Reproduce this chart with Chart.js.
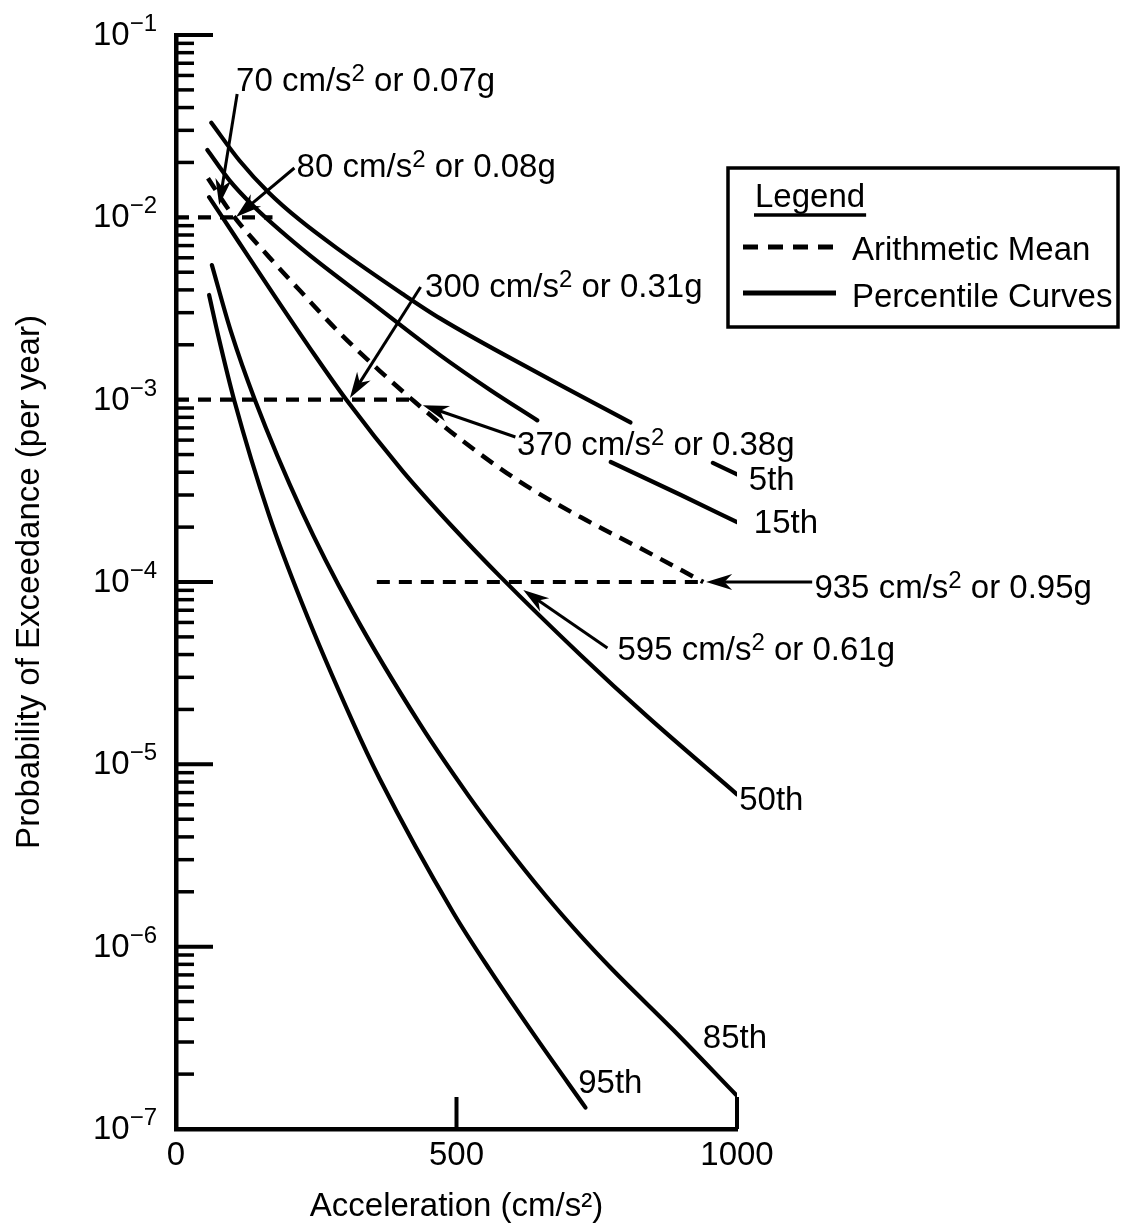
<!DOCTYPE html>
<html>
<head>
<meta charset="utf-8">
<script src="https://cdn.jsdelivr.net/npm/chart.js@4.4.1/dist/chart.umd.min.js"></script>
<style>
html,body{margin:0;padding:0;background:#ffffff;}
#box{width:1134px;height:1230px;}
</style>
</head>
<body>
<div id="box"><canvas id="chart" width="1134" height="1230"></canvas></div>
<script>
// ---------------- data ----------------
const xTicks = [0, 500, 1000];
const yDecades = [-7, -6, -5, -4, -3, -2, -1];

// percentile curves (acceleration cm/s^2 , annual probability of exceedance)
const p5Accel  = [63, 113, 166, 220, 286, 404, 470, 649, 810, 885, 957, 1000];
const p5Prob   = [3.3e-2, 2.05e-2, 1.36e-2, 9.7e-3, 6.8e-3, 3.8e-3, 2.8e-3, 1.38e-3, 7.5e-4, null, 4.5e-4, 3.9e-4];

const p15Accel = [56, 95, 136, 225, 345, 470, 560, 644, 710, 775, 900, 1000];
const p15Prob  = [2.34e-2, 1.6e-2, 1.17e-2, 6.7e-3, 3.47e-3, 1.76e-3, 1.13e-3, 7.7e-4, null, 4.55e-4, 3.0e-4, 2.13e-4];

const p50Accel = [59, 113, 175, 238, 304, 404, 494, 578, 721, 841, 1000];
const p50Prob  = [1.29e-2, 7.23e-3, 3.73e-3, 1.93e-3, 9.95e-4, 4.06e-4, 1.99e-4, 1.07e-4, 3.98e-5, 1.82e-5, 6.85e-6];

const p85Accel = [64, 98, 140, 225, 315, 435, 521, 583, 658, 721, 780, 887, 1000];
const p85Prob  = [5.47e-3, 2.36e-3, 1.01e-3, 2.42e-4, 6.9e-5, 1.66e-5, 6.76e-6, 3.74e-6, 1.92e-6, 1.15e-6, 7.38e-7, 3.48e-7, 1.52e-7];

const p95Accel = [59, 77, 104, 166, 225, 315, 363, 494, 560, 644, 730];
const p95Prob  = [3.75e-3, 2.13e-3, 9.86e-4, 2.32e-4, 7.6e-5, 1.71e-5, 8.34e-6, 1.54e-6, 7.41e-7, 3.1e-7, 1.31e-7];

// arithmetic mean curve
const meanAccel = [57, 98, 166, 220, 292, 363, 426, 506, 614, 721, 828, 940];
const meanProb  = [1.64e-2, 1.06e-2, 6.05e-3, 3.99e-3, 2.32e-3, 1.44e-3, 9.7e-4, 6.1e-4, 3.53e-4, 2.27e-4, 1.53e-4, 1.0e-4];

// horizontal dashed reference levels
const refLevel = [1e-2, 1e-3, 1e-4];
const refFrom  = [0, 0, 358];
const refTo    = [172, 428, 940];

// curve end labels
const curveLabels      = ['5th', '15th', '50th', '85th', '95th'];
const curveLabelAccel  = [1021, 1030, 1004, 939, 717];
const curveLabelProb   = [3.19e-4, 1.85e-4, 5.61e-6, 2.77e-7, 1.57e-7];

// call-outs (text anchor, arrow start, arrow tip in data units)
const callouts = [
  {value: '70',  g: '0.07g', text: [107, 0.0493],  from: [109, 0.0475],  tip: [77, 0.01168]},
  {value: '80',  g: '0.08g', text: [215, 0.01663], from: [211, 0.01864], tip: [107, 0.01004]},
  {value: '300', g: '0.31g', text: [444, 3.66e-3], from: [436, 4.15e-3], tip: [310, 1.02e-3]},
  {value: '370', g: '0.38g', text: [608, 4.97e-4], from: [605, 6.24e-4], tip: [440, 9.33e-4]},
  {value: '935', g: '0.95g', text: [1138, 8.17e-5], from: [1134, 1e-4],  tip: [945, 1e-4]},
  {value: '595', g: '0.61g', text: [787, 3.73e-5], from: [769, 4.34e-5], tip: [619, 9.03e-5]}
];

// ---------------- chart ----------------
const FONT = "'Liberation Sans', Arial, Helvetica, sans-serif";
Chart.defaults.font.family = FONT;
Chart.defaults.color = '#000';

const zip = (xs, ys) => xs.map((x, i) => ({x: x, y: ys[i]}));
const solidStyle = {borderColor: '#000', backgroundColor: '#000', borderWidth: 4.2, pointRadius: 0,
  pointHoverRadius: 0, fill: false, cubicInterpolationMode: 'monotone', spanGaps: false,
  borderCapStyle: 'round'};

const datasets = [
  Object.assign({label: '5th', data: zip(p5Accel, p5Prob)}, solidStyle),
  Object.assign({label: '15th', data: zip(p15Accel, p15Prob)}, solidStyle),
  Object.assign({label: '50th', data: zip(p50Accel, p50Prob)}, solidStyle),
  Object.assign({label: '85th', data: zip(p85Accel, p85Prob)}, solidStyle),
  Object.assign({label: '95th', data: zip(p95Accel, p95Prob)}, solidStyle),
  Object.assign({label: 'Arithmetic Mean', data: zip(meanAccel, meanProb)}, solidStyle,
    {borderDash: [14, 9], borderWidth: 4.5, borderCapStyle: 'butt'})
];
refLevel.forEach((lv, i) => {
  datasets.push(Object.assign({label: 'level ' + lv,
    data: [{x: refFrom[i], y: lv}, {x: refTo[i], y: lv}]}, solidStyle,
    {borderDash: [13, 9], borderWidth: 4.2, borderCapStyle: 'butt', cubicInterpolationMode: 'default'}));
});

function line(ctx, x1, y1, x2, y2, w) {
  ctx.lineWidth = w; ctx.beginPath(); ctx.moveTo(x1, y1); ctx.lineTo(x2, y2); ctx.stroke();
}
// parts: [text, isSup]
function drawRich(ctx, x, y, parts, align, mainSize, supSize, raise) {
  const mf = mainSize + 'px ' + FONT, sf = supSize + 'px ' + FONT;
  let total = 0;
  parts.forEach(p => { ctx.font = p[1] ? sf : mf; total += ctx.measureText(p[0]).width; });
  let cx = align === 'right' ? x - total : (align === 'center' ? x - total / 2 : x);
  ctx.textAlign = 'left'; ctx.textBaseline = 'alphabetic';
  parts.forEach(p => {
    ctx.font = p[1] ? sf : mf;
    ctx.fillText(p[0], cx, p[1] ? y - raise : y);
    cx += ctx.measureText(p[0]).width;
  });
}

const decor = {
  id: 'decor',
  afterDatasetsDraw(chart) {
    const {ctx, chartArea: a, scales: {x, y}} = chart;
    ctx.save();
    ctx.strokeStyle = '#000'; ctx.fillStyle = '#000'; ctx.lineCap = 'butt'; ctx.setLineDash([]);

    // y-axis ticks (inward) and labels
    yDecades.forEach(e => {
      const base = Math.pow(10, e);
      const py = y.getPixelForValue(base);
      const covered = refLevel.some((lv, i) => Math.abs(Math.log10(lv) - e) < 1e-9 && refFrom[i] === 0);
      if (e > -7 && !covered) line(ctx, a.left, py, a.left + 37, py, 4);
      if (e < -1) {
        for (let m = 2; m <= 9; m++) {
          const pm = y.getPixelForValue(m * base);
          line(ctx, a.left, pm, a.left + 18, pm, 3.5);
        }
      }
      drawRich(ctx, a.left - 19, py + 10, [['10', false], ['\u2212' + (-e), true]], 'right', 33, 24, 14);
    });

    // x-axis ticks (inward)
    xTicks.forEach(v => {
      if (v === 0) return;
      const px = x.getPixelForValue(v);
      line(ctx, px, a.bottom, px, a.bottom - 32, 4);
    });

    // curve labels
    ctx.font = '33px ' + FONT; ctx.textAlign = 'left'; ctx.textBaseline = 'alphabetic';
    curveLabels.forEach((t, i) => {
      ctx.fillText(t, x.getPixelForValue(curveLabelAccel[i]), y.getPixelForValue(curveLabelProb[i]));
    });

    // call-outs with arrows
    callouts.forEach(c => {
      const tx = x.getPixelForValue(c.text[0]), ty = y.getPixelForValue(c.text[1]);
      drawRich(ctx, tx, ty, [[c.value + ' cm/s', false], ['2', true], [' or ' + c.g, false]], 'left', 33, 24, 10);
      const fx = x.getPixelForValue(c.from[0]), fy = y.getPixelForValue(c.from[1]);
      const px = x.getPixelForValue(c.tip[0]), py = y.getPixelForValue(c.tip[1]);
      const ang = Math.atan2(py - fy, px - fx);
      const L = 26, W = 8;
      const bx = px - L * Math.cos(ang), by = py - L * Math.sin(ang);
      line(ctx, fx, fy, bx + 8 * Math.cos(ang), by + 8 * Math.sin(ang), 3);
      ctx.beginPath();
      ctx.moveTo(px, py);
      ctx.lineTo(bx + W * Math.sin(ang), by - W * Math.cos(ang));
      ctx.lineTo(bx + 0.3 * L * Math.cos(ang), by + 0.3 * L * Math.sin(ang));
      ctx.lineTo(bx - W * Math.sin(ang), by + W * Math.cos(ang));
      ctx.closePath(); ctx.fill();
    });

    // legend box
    const lx = a.right - 9, ly = 168, lw = 390, lh = 159;
    ctx.lineWidth = 3.5; ctx.strokeRect(lx, ly, lw, lh);
    ctx.font = '33px ' + FONT; ctx.textAlign = 'left'; ctx.textBaseline = 'alphabetic';
    ctx.fillText('Legend', lx + 27, ly + 39);
    const uw = ctx.measureText('Legend').width;
    line(ctx, lx + 26, ly + 47, lx + 27 + uw + 1, ly + 47, 3.5);
    ctx.setLineDash([15, 10]);
    line(ctx, lx + 15, ly + 79, lx + 108, ly + 79, 5);
    ctx.setLineDash([]);
    ctx.fillText('Arithmetic Mean', lx + 124, ly + 92);
    line(ctx, lx + 15, ly + 125, lx + 108, ly + 125, 5);
    ctx.fillText('Percentile Curves', lx + 124, ly + 139);

    ctx.restore();
  }
};

new Chart(document.getElementById('chart'), {
  type: 'line',
  data: {datasets: datasets},
  options: {
    responsive: false,
    animation: false,
    devicePixelRatio: 1,
    layout: {padding: {left: 0, top: 35, right: 397, bottom: 0}},
    plugins: {legend: {display: false}, tooltip: {enabled: false}},
    scales: {
      x: {
        type: 'linear', min: 0, max: 1000,
        afterFit: s => { s.height = 101; },
        ticks: {stepSize: 500, padding: 7, font: {size: 33}, color: '#000', callback: v => String(v), maxRotation: 0},
        grid: {display: false, drawTicks: false},
        border: {display: true, color: '#000', width: 4.5},
        title: {display: true, text: 'Acceleration (cm/s\u00B2)', color: '#000', font: {size: 33}, padding: {top: 0, bottom: 3}}
      },
      y: {
        type: 'logarithmic', min: 1e-7, max: 1e-1,
        afterFit: s => { s.width = 176; },
        ticks: {display: false},
        grid: {display: false, drawTicks: false},
        border: {display: true, color: '#000', width: 4.5},
        title: {display: true, text: 'Probability of Exceedance (per year)', color: '#000', font: {size: 33}, padding: {top: 10, bottom: 0}}
      }
    }
  },
  plugins: [decor]
});
</script>
</body>
</html>
